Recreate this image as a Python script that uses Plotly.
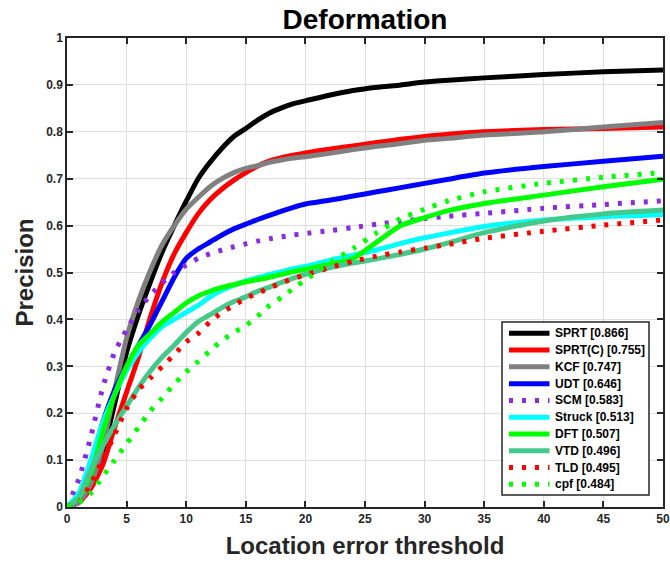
import plotly.graph_objects as go

thresholds = list(range(0, 21)) + [22, 24, 26, 28, 30, 32, 35, 40, 45, 50]

sprt = [0, 0.01, 0.05, 0.12, 0.22, 0.33, 0.41, 0.48, 0.545, 0.60, 0.652, 0.70, 0.735, 0.765, 0.79, 0.807, 0.825, 0.84, 0.851, 0.86, 0.866,
        0.878, 0.888, 0.895, 0.90, 0.906, 0.91, 0.915, 0.922, 0.928, 0.932]
sprt_c = [0, 0.01, 0.04, 0.09, 0.17, 0.245, 0.32, 0.405, 0.48, 0.54, 0.585, 0.625, 0.655, 0.678, 0.697, 0.713, 0.727, 0.738, 0.745, 0.75, 0.755,
          0.763, 0.77, 0.777, 0.784, 0.79, 0.795, 0.80, 0.805, 0.807, 0.81]
kcf = [0, 0.01, 0.05, 0.13, 0.25, 0.36, 0.44, 0.505, 0.56, 0.60, 0.635, 0.66, 0.683, 0.70, 0.713, 0.722, 0.728, 0.735, 0.74, 0.744, 0.747,
       0.754, 0.762, 0.769, 0.775, 0.782, 0.786, 0.793, 0.80, 0.81, 0.82]
udt = [0, 0.02, 0.09, 0.18, 0.25, 0.30, 0.345, 0.39, 0.44, 0.49, 0.53, 0.55, 0.565, 0.58, 0.593, 0.603, 0.613, 0.622, 0.631, 0.639, 0.646,
       0.654, 0.663, 0.672, 0.681, 0.69, 0.699, 0.712, 0.726, 0.737, 0.748]
scm = [0, 0.06, 0.15, 0.255, 0.33, 0.378, 0.42, 0.452, 0.478, 0.50, 0.516, 0.53, 0.54, 0.548, 0.555, 0.561, 0.567, 0.572, 0.576, 0.58, 0.583,
       0.589, 0.596, 0.603, 0.609, 0.615, 0.62, 0.626, 0.637, 0.645, 0.653]
struck = [0, 0.03, 0.10, 0.18, 0.24, 0.29, 0.33, 0.36, 0.385, 0.40, 0.415, 0.43, 0.448, 0.462, 0.473, 0.482, 0.489, 0.496, 0.502, 0.508, 0.513,
          0.526, 0.537, 0.548, 0.562, 0.574, 0.584, 0.598, 0.612, 0.619, 0.623]
dft = [0, 0.02, 0.07, 0.16, 0.24, 0.30, 0.345, 0.37, 0.395, 0.415, 0.435, 0.45, 0.46, 0.468, 0.474, 0.48, 0.485, 0.49, 0.496, 0.502, 0.507,
       0.517, 0.53, 0.565, 0.60, 0.617, 0.632, 0.647, 0.665, 0.683, 0.699]
vtd = [0, 0.02, 0.08, 0.13, 0.175, 0.215, 0.255, 0.29, 0.32, 0.345, 0.372, 0.395, 0.41, 0.425, 0.438, 0.448, 0.46, 0.469, 0.479, 0.488, 0.496,
       0.51, 0.52, 0.529, 0.539, 0.55, 0.563, 0.585, 0.61, 0.625, 0.633]
tld = [0, 0.01, 0.05, 0.10, 0.155, 0.21, 0.25, 0.275, 0.30, 0.325, 0.352, 0.37, 0.395, 0.415, 0.43, 0.445, 0.456, 0.467, 0.478, 0.487, 0.495,
       0.51, 0.524, 0.535, 0.544, 0.552, 0.56, 0.573, 0.588, 0.601, 0.612]
cpf = [0, 0.01, 0.03, 0.065, 0.10, 0.135, 0.17, 0.205, 0.233, 0.262, 0.288, 0.31, 0.333, 0.355, 0.372, 0.387, 0.407, 0.43, 0.447, 0.466, 0.484,
       0.52, 0.551, 0.585, 0.615, 0.635, 0.653, 0.672, 0.69, 0.703, 0.713]

names = ["SPRT [0.866]", "SPRT(C) [0.755]", "KCF [0.747]", "UDT [0.646]", "SCM [0.583]",
         "Struck [0.513]", "DFT [0.507]", "VTD [0.496]", "TLD [0.495]", "cpf [0.484]"]
series = [sprt, sprt_c, kcf, udt, scm, struck, dft, vtd, tld, cpf]
colors = ["#000000", "#FF0000", "#808080", "#0000FF", "#8A2BE2",
          "#00FFFF", "#00FF00", "#44C98A", "#FF0000", "#00FF00"]
dashes = ["solid", "solid", "solid", "solid", "4px,9px",
          "solid", "solid", "solid", "4px,9px", "4px,9px"]

font_family = "Liberation Sans, Arial, Helvetica, sans-serif"

W, H = 670, 564
ML, MR, MT, MB = 67, 7, 38, 57
PW, PH = W - ML - MR, H - MT - MB


def px_x(px):
    return (px - ML) / PW


def px_y(py):
    return (H - MB - py) / PH


fig = go.Figure()
for name, ys, c, d in zip(names, series, colors, dashes):
    fig.add_trace(go.Scatter(x=thresholds, y=ys, name=name, mode="lines", showlegend=False,
                             line=dict(color=c, width=5, dash=d, shape="spline", smoothing=0.6)))

axis_common = dict(
    showline=True, linecolor="#262626", linewidth=1.5, mirror="ticks",
    ticks="inside", ticklen=6, tickwidth=1.5, tickcolor="#262626",
    showgrid=True, gridcolor="#DEDEDE", gridwidth=1, zeroline=False, automargin=False,
    tickfont=dict(family=font_family, size=12, color="#262626", weight="bold"),
)

# legend box (drawn as layout shapes + text)
shapes = []
annotations = []
box_l, box_r, box_t, box_b = 502, 649, 322, 495
shapes.append(dict(type="rect", xref="paper", yref="paper",
                   x0=px_x(box_l), x1=px_x(box_r), y0=px_y(box_b), y1=px_y(box_t),
                   fillcolor="white", line=dict(color="#262626", width=1.5), layer="above"))
row0, row_step = 333.3, 16.78
for i, (name, c, d) in enumerate(zip(names, colors, dashes)):
    yy = row0 + i * row_step
    shapes.append(dict(type="line", xref="paper", yref="paper",
                       x0=px_x(509), x1=px_x(549.5), y0=px_y(yy), y1=px_y(yy),
                       line=dict(color=c, width=5, dash=d), layer="above"))
    annotations.append(dict(text=name, xref="paper", yref="paper", x=px_x(552.5), y=px_y(yy),
                            xanchor="left", yanchor="middle", showarrow=False,
                            font=dict(family=font_family, size=12, color="#000000", weight="bold")))

fig.update_layout(
    width=W, height=H,
    margin=dict(l=ML, r=MR, t=MT, b=MB),
    paper_bgcolor="white", plot_bgcolor="white",
    title=dict(text="Deformation", x=(ML + PW / 2) / W, xanchor="center", y=1 - 19 / H, yanchor="middle",
               font=dict(family=font_family, size=28, color="#000000", weight="bold")),
    xaxis=dict(range=[0, 50], tickmode="array", tickvals=list(range(0, 51, 5)),
               title=dict(text="Location error threshold", standoff=12,
                          font=dict(family=font_family, size=24, color="#262626", weight="bold")),
               **axis_common),
    yaxis=dict(range=[0, 1], tickmode="array", tickvals=[i / 10 for i in range(11)],
               ticktext=["0", "0.1", "0.2", "0.3", "0.4", "0.5", "0.6", "0.7", "0.8", "0.9", "1"],
               title=dict(text="Precision", standoff=6,
                          font=dict(family=font_family, size=24, color="#262626", weight="bold")),
               **axis_common),
    shapes=shapes,
    annotations=annotations,
    showlegend=False,
)

fig.write_html("out.html")
